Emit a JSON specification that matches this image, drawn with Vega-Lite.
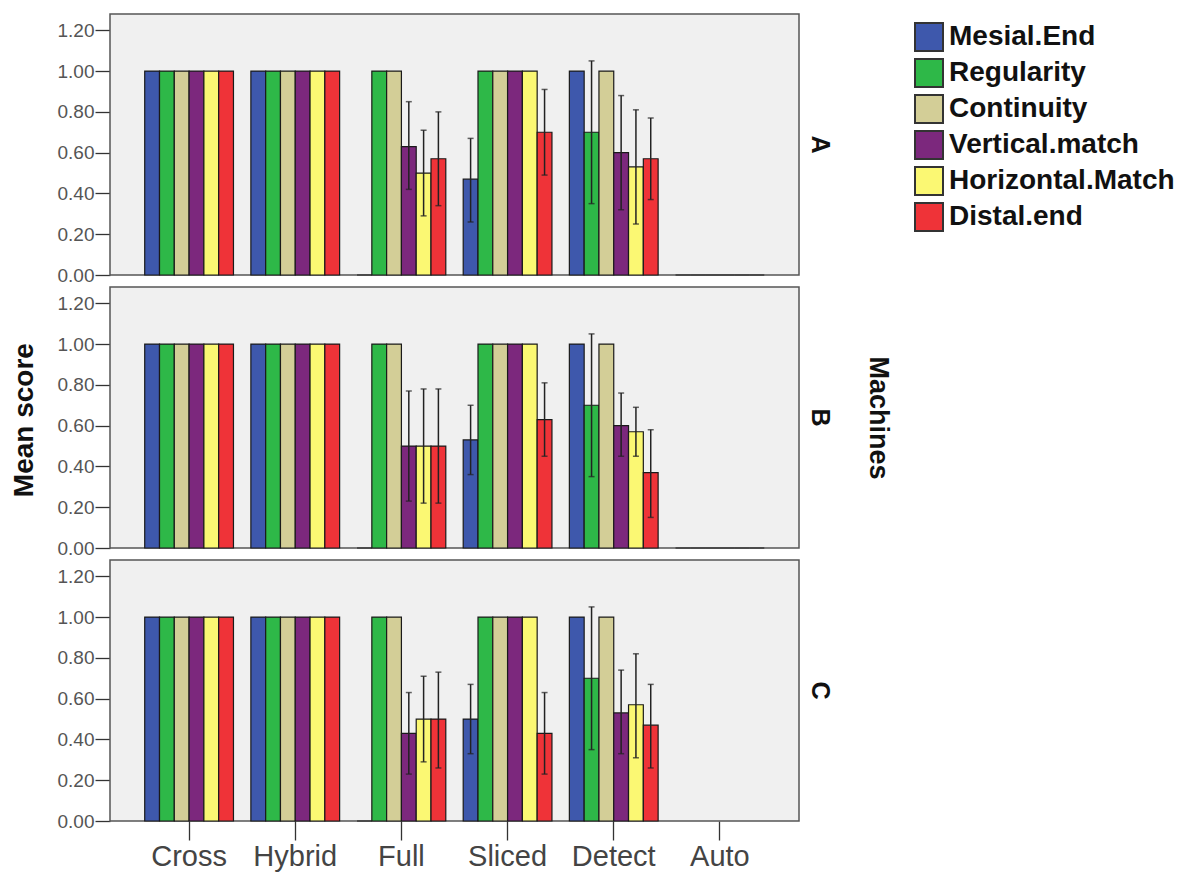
{
  "$schema": "https://vega.github.io/schema/vega-lite/v6.json",
  "padding": {"left": 11, "top": 13, "right": 5, "bottom": 5},
  "background": "white",
  "bounds": "flush",
  "title": {"text": "Mean score", "orient": "left", "anchor": "middle", "fontSize": 28, "fontWeight": "bold", "font": "Liberation Sans", "color": "#111", "offset": 18, "dx": 22},
  "data": {"values": [
    {"m":"A","t":"Cross","c":"Mesial.End","v":1},{"m":"A","t":"Cross","c":"Regularity","v":1},{"m":"A","t":"Cross","c":"Continuity","v":1},{"m":"A","t":"Cross","c":"Vertical.match","v":1},{"m":"A","t":"Cross","c":"Horizontal.Match","v":1},{"m":"A","t":"Cross","c":"Distal.end","v":1},
    {"m":"A","t":"Hybrid","c":"Mesial.End","v":1},{"m":"A","t":"Hybrid","c":"Regularity","v":1},{"m":"A","t":"Hybrid","c":"Continuity","v":1},{"m":"A","t":"Hybrid","c":"Vertical.match","v":1},{"m":"A","t":"Hybrid","c":"Horizontal.Match","v":1},{"m":"A","t":"Hybrid","c":"Distal.end","v":1},
    {"m":"A","t":"Full","c":"Mesial.End","v":0},{"m":"A","t":"Full","c":"Regularity","v":1},{"m":"A","t":"Full","c":"Continuity","v":1},{"m":"A","t":"Full","c":"Vertical.match","v":0.63,"lo":0.42,"hi":0.85},{"m":"A","t":"Full","c":"Horizontal.Match","v":0.5,"lo":0.29,"hi":0.71},{"m":"A","t":"Full","c":"Distal.end","v":0.57,"lo":0.34,"hi":0.8},
    {"m":"A","t":"Sliced","c":"Mesial.End","v":0.47,"lo":0.26,"hi":0.67},{"m":"A","t":"Sliced","c":"Regularity","v":1},{"m":"A","t":"Sliced","c":"Continuity","v":1},{"m":"A","t":"Sliced","c":"Vertical.match","v":1},{"m":"A","t":"Sliced","c":"Horizontal.Match","v":1},{"m":"A","t":"Sliced","c":"Distal.end","v":0.7,"lo":0.49,"hi":0.91},
    {"m":"A","t":"Detect","c":"Mesial.End","v":1},{"m":"A","t":"Detect","c":"Regularity","v":0.7,"lo":0.35,"hi":1.05},{"m":"A","t":"Detect","c":"Continuity","v":1},{"m":"A","t":"Detect","c":"Vertical.match","v":0.6,"lo":0.32,"hi":0.88},{"m":"A","t":"Detect","c":"Horizontal.Match","v":0.53,"lo":0.25,"hi":0.81},{"m":"A","t":"Detect","c":"Distal.end","v":0.57,"lo":0.37,"hi":0.77},
    {"m":"A","t":"Auto","c":"Mesial.End","v":0},{"m":"A","t":"Auto","c":"Regularity","v":0},{"m":"A","t":"Auto","c":"Continuity","v":0},{"m":"A","t":"Auto","c":"Vertical.match","v":0},{"m":"A","t":"Auto","c":"Horizontal.Match","v":0},{"m":"A","t":"Auto","c":"Distal.end","v":0},
    {"m":"B","t":"Cross","c":"Mesial.End","v":1},{"m":"B","t":"Cross","c":"Regularity","v":1},{"m":"B","t":"Cross","c":"Continuity","v":1},{"m":"B","t":"Cross","c":"Vertical.match","v":1},{"m":"B","t":"Cross","c":"Horizontal.Match","v":1},{"m":"B","t":"Cross","c":"Distal.end","v":1},
    {"m":"B","t":"Hybrid","c":"Mesial.End","v":1},{"m":"B","t":"Hybrid","c":"Regularity","v":1},{"m":"B","t":"Hybrid","c":"Continuity","v":1},{"m":"B","t":"Hybrid","c":"Vertical.match","v":1},{"m":"B","t":"Hybrid","c":"Horizontal.Match","v":1},{"m":"B","t":"Hybrid","c":"Distal.end","v":1},
    {"m":"B","t":"Full","c":"Mesial.End","v":0},{"m":"B","t":"Full","c":"Regularity","v":1},{"m":"B","t":"Full","c":"Continuity","v":1},{"m":"B","t":"Full","c":"Vertical.match","v":0.5,"lo":0.23,"hi":0.77},{"m":"B","t":"Full","c":"Horizontal.Match","v":0.5,"lo":0.22,"hi":0.78},{"m":"B","t":"Full","c":"Distal.end","v":0.5,"lo":0.22,"hi":0.78},
    {"m":"B","t":"Sliced","c":"Mesial.End","v":0.53,"lo":0.36,"hi":0.7},{"m":"B","t":"Sliced","c":"Regularity","v":1},{"m":"B","t":"Sliced","c":"Continuity","v":1},{"m":"B","t":"Sliced","c":"Vertical.match","v":1},{"m":"B","t":"Sliced","c":"Horizontal.Match","v":1},{"m":"B","t":"Sliced","c":"Distal.end","v":0.63,"lo":0.45,"hi":0.81},
    {"m":"B","t":"Detect","c":"Mesial.End","v":1},{"m":"B","t":"Detect","c":"Regularity","v":0.7,"lo":0.35,"hi":1.05},{"m":"B","t":"Detect","c":"Continuity","v":1},{"m":"B","t":"Detect","c":"Vertical.match","v":0.6,"lo":0.45,"hi":0.76},{"m":"B","t":"Detect","c":"Horizontal.Match","v":0.57,"lo":0.45,"hi":0.69},{"m":"B","t":"Detect","c":"Distal.end","v":0.37,"lo":0.15,"hi":0.58},
    {"m":"B","t":"Auto","c":"Mesial.End","v":0},{"m":"B","t":"Auto","c":"Regularity","v":0},{"m":"B","t":"Auto","c":"Continuity","v":0},{"m":"B","t":"Auto","c":"Vertical.match","v":0},{"m":"B","t":"Auto","c":"Horizontal.Match","v":0},{"m":"B","t":"Auto","c":"Distal.end","v":0},
    {"m":"C","t":"Cross","c":"Mesial.End","v":1},{"m":"C","t":"Cross","c":"Regularity","v":1},{"m":"C","t":"Cross","c":"Continuity","v":1},{"m":"C","t":"Cross","c":"Vertical.match","v":1},{"m":"C","t":"Cross","c":"Horizontal.Match","v":1},{"m":"C","t":"Cross","c":"Distal.end","v":1},
    {"m":"C","t":"Hybrid","c":"Mesial.End","v":1},{"m":"C","t":"Hybrid","c":"Regularity","v":1},{"m":"C","t":"Hybrid","c":"Continuity","v":1},{"m":"C","t":"Hybrid","c":"Vertical.match","v":1},{"m":"C","t":"Hybrid","c":"Horizontal.Match","v":1},{"m":"C","t":"Hybrid","c":"Distal.end","v":1},
    {"m":"C","t":"Full","c":"Mesial.End","v":0},{"m":"C","t":"Full","c":"Regularity","v":1},{"m":"C","t":"Full","c":"Continuity","v":1},{"m":"C","t":"Full","c":"Vertical.match","v":0.43,"lo":0.23,"hi":0.63},{"m":"C","t":"Full","c":"Horizontal.Match","v":0.5,"lo":0.29,"hi":0.71},{"m":"C","t":"Full","c":"Distal.end","v":0.5,"lo":0.26,"hi":0.73},
    {"m":"C","t":"Sliced","c":"Mesial.End","v":0.5,"lo":0.33,"hi":0.67},{"m":"C","t":"Sliced","c":"Regularity","v":1},{"m":"C","t":"Sliced","c":"Continuity","v":1},{"m":"C","t":"Sliced","c":"Vertical.match","v":1},{"m":"C","t":"Sliced","c":"Horizontal.Match","v":1},{"m":"C","t":"Sliced","c":"Distal.end","v":0.43,"lo":0.23,"hi":0.63},
    {"m":"C","t":"Detect","c":"Mesial.End","v":1},{"m":"C","t":"Detect","c":"Regularity","v":0.7,"lo":0.35,"hi":1.05},{"m":"C","t":"Detect","c":"Continuity","v":1},{"m":"C","t":"Detect","c":"Vertical.match","v":0.53,"lo":0.33,"hi":0.74},{"m":"C","t":"Detect","c":"Horizontal.Match","v":0.57,"lo":0.31,"hi":0.82},{"m":"C","t":"Detect","c":"Distal.end","v":0.47,"lo":0.26,"hi":0.67}
  ]},
  "facet": {
    "row": {
      "field": "m", "type": "nominal",
      "header": {
        "title": "Machines", "titleOrient": "right", "titleAngle": 90, "titleFontSize": 27, "titleFontWeight": "bold", "titleFont": "Liberation Sans", "titleColor": "#111", "titlePadding": 22,
        "labelOrient": "right", "labelAngle": 90, "labelFontSize": 25, "labelFontWeight": "bold", "labelFont": "Liberation Sans", "labelColor": "#111", "labelPadding": 8
      }
    }
  },
  "spacing": 12,
  "spec": {
    "width": 689,
    "height": 261,
    "layer": [
      {
        "mark": {"type": "bar", "stroke": "#1a1a1a", "strokeWidth": 1.2},
        "encoding": {
          "x": {"field": "t", "type": "nominal", "sort": ["Cross","Hybrid","Full","Sliced","Detect","Auto"], "scale": {"paddingInner": 0.164, "paddingOuter": 0.327}, "title": null},
          "xOffset": {"field": "c", "type": "nominal", "sort": ["Mesial.End","Regularity","Continuity","Vertical.match","Horizontal.Match","Distal.end"], "scale": {"paddingInner": 0, "paddingOuter": 0}},
          "y": {"field": "v", "type": "quantitative", "title": null, "scale": {"domain": [0, 1.28], "nice": false, "zero": true}},
          "color": {"field": "c", "type": "nominal", "sort": ["Mesial.End","Regularity","Continuity","Vertical.match","Horizontal.Match","Distal.end"],
            "scale": {"domain": ["Mesial.End","Regularity","Continuity","Vertical.match","Horizontal.Match","Distal.end"], "range": ["#3E58AC","#2EB848","#D3CE97","#7C287D","#FBF873","#EF3338"]},
            "legend": {"title": null}}
        }
      },
      {
        "transform": [{"filter": "isValid(datum.lo)"}],
        "mark": {"type": "rule", "color": "#222", "strokeWidth": 1.5},
        "encoding": {
          "x": {"field": "t", "type": "nominal", "sort": ["Cross","Hybrid","Full","Sliced","Detect","Auto"]},
          "xOffset": {"field": "c", "type": "nominal", "sort": ["Mesial.End","Regularity","Continuity","Vertical.match","Horizontal.Match","Distal.end"]},
          "y": {"field": "lo", "type": "quantitative"},
          "y2": {"field": "hi"}
        }
      },
      {
        "transform": [{"filter": "isValid(datum.lo)"}],
        "mark": {"type": "tick", "color": "#222", "thickness": 1.5, "size": 6, "orient": "horizontal"},
        "encoding": {
          "x": {"field": "t", "type": "nominal", "sort": ["Cross","Hybrid","Full","Sliced","Detect","Auto"]},
          "xOffset": {"field": "c", "type": "nominal", "sort": ["Mesial.End","Regularity","Continuity","Vertical.match","Horizontal.Match","Distal.end"]},
          "y": {"field": "hi", "type": "quantitative"}
        }
      },
      {
        "transform": [{"filter": "isValid(datum.lo)"}],
        "mark": {"type": "tick", "color": "#222", "thickness": 1.5, "size": 6, "orient": "horizontal"},
        "encoding": {
          "x": {"field": "t", "type": "nominal", "sort": ["Cross","Hybrid","Full","Sliced","Detect","Auto"]},
          "xOffset": {"field": "c", "type": "nominal", "sort": ["Mesial.End","Regularity","Continuity","Vertical.match","Horizontal.Match","Distal.end"]},
          "y": {"field": "lo", "type": "quantitative"}
        }
      }
    ]
  },
  "config": {
    "view": {"fill": "#f0f0f0", "stroke": "#555", "strokeWidth": 1.5},
    "axis": {"grid": false, "domain": false, "tickColor": "#333", "tickWidth": 1.3, "labelFont": "Liberation Sans", "labelColor": "#555"},
    "axisY": {"values": [0, 0.2, 0.4, 0.6, 0.8, 1.0, 1.2], "format": ".2f", "tickSize": 15, "labelPadding": 1, "labelFontSize": 19, "labelOverlap": false},
    "axisX": {"tickSize": 19, "labelPadding": 2, "labelFontSize": 29, "labelAngle": 0, "labelColor": "#444"},
    "legend": {
      "orient": "right", "offset": 14, "symbolType": "square", "symbolSize": 784, "symbolStrokeColor": "#333", "symbolStrokeWidth": 2, "symbolOpacity": 1,
      "labelFont": "Liberation Sans", "labelFontSize": 28, "labelFontWeight": "bold", "labelColor": "#111", "rowPadding": 0, "labelOffset": 5, "labelLimit": 400, "padding": 8
    }
  }
}
